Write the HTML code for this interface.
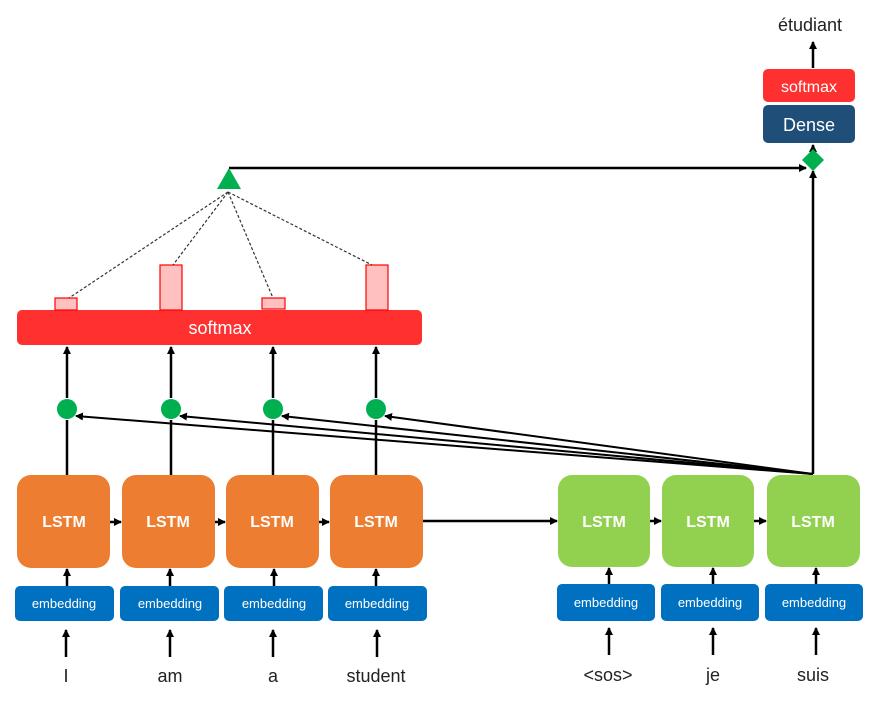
<!DOCTYPE html>
<html><head><meta charset="utf-8"><style>
html,body{margin:0;padding:0;background:#fff;}
svg{display:block;}
text{font-family:"Liberation Sans",sans-serif;}
</style></head><body>
<svg width="893" height="703" viewBox="0 0 893 703" xmlns="http://www.w3.org/2000/svg">
<defs>
<marker id="a" markerWidth="8" markerHeight="8" refX="7" refY="4" orient="auto" markerUnits="userSpaceOnUse"><path d="M0,0 L8,4 L0,8 z" fill="#000"/></marker>
</defs>
<g fill="#ED7D31">
<rect x="17" y="475" width="93" height="93" rx="14"/>
<rect x="122" y="475" width="93" height="93" rx="14"/>
<rect x="226" y="475" width="93" height="93" rx="14"/>
<rect x="330" y="475" width="93" height="93" rx="14"/>
</g>
<g fill="#92D050">
<rect x="558" y="475" width="92" height="92" rx="14"/>
<rect x="662" y="475" width="92" height="92" rx="14"/>
<rect x="767" y="475" width="93" height="92" rx="14"/>
</g>
<g fill="#fff" font-weight="bold" font-size="16" text-anchor="middle">
<text x="64" y="527">LSTM</text><text x="168" y="527">LSTM</text><text x="272" y="527">LSTM</text><text x="376" y="527">LSTM</text>
<text x="604" y="527">LSTM</text><text x="708" y="527">LSTM</text><text x="813" y="527">LSTM</text>
</g>
<g fill="#0070C0">
<rect x="15" y="586" width="99" height="35" rx="5"/>
<rect x="120" y="586" width="99" height="35" rx="5"/>
<rect x="224" y="586" width="99" height="35" rx="5"/>
<rect x="328" y="586" width="99" height="35" rx="5"/>
<rect x="557" y="584" width="98" height="37" rx="5"/>
<rect x="661" y="584" width="98" height="37" rx="5"/>
<rect x="765" y="584" width="98" height="37" rx="5"/>
</g>
<g fill="#fff" font-size="13" text-anchor="middle">
<text x="64" y="608">embedding</text><text x="170" y="608">embedding</text><text x="274" y="608">embedding</text><text x="377" y="608">embedding</text>
<text x="606" y="607">embedding</text><text x="710" y="607">embedding</text><text x="814" y="607">embedding</text>
</g>
<g fill="#222" font-size="18" text-anchor="middle">
<text x="66" y="682">I</text><text x="170" y="682">am</text><text x="273" y="682">a</text><text x="376" y="682">student</text>
<text x="608" y="681">&lt;sos&gt;</text><text x="713" y="681">je</text><text x="813" y="681">suis</text>
<text x="810" y="31">étudiant</text>
</g>
<g stroke="#000" stroke-width="2.5" fill="none" marker-end="url(#a)">
<line x1="66" y1="657" x2="66" y2="630"/><line x1="170" y1="657" x2="170" y2="630"/><line x1="273" y1="657" x2="273" y2="630"/><line x1="377" y1="657" x2="377" y2="630"/>
<line x1="609" y1="655" x2="609" y2="628"/><line x1="713" y1="655" x2="713" y2="628"/><line x1="816" y1="655" x2="816" y2="628"/>
<line x1="67" y1="586" x2="67" y2="569"/><line x1="170" y1="586" x2="170" y2="569"/><line x1="274" y1="586" x2="274" y2="569"/><line x1="376" y1="586" x2="376" y2="569"/>
<line x1="609" y1="584" x2="609" y2="568"/><line x1="713" y1="584" x2="713" y2="568"/><line x1="816" y1="584" x2="816" y2="568"/>
<line x1="110" y1="522" x2="121" y2="522"/><line x1="215" y1="522" x2="225" y2="522"/><line x1="319" y1="522" x2="329" y2="522"/>
<line x1="423" y1="521" x2="557" y2="521"/><line x1="650" y1="521" x2="661" y2="521"/><line x1="754" y1="521" x2="766" y2="521"/>
<line x1="67" y1="398" x2="67" y2="347"/><line x1="171" y1="398" x2="171" y2="347"/><line x1="273" y1="398" x2="273" y2="347"/><line x1="376" y1="398" x2="376" y2="347"/>
<line x1="813" y1="474" x2="813" y2="171"/>
<line x1="229" y1="168" x2="806" y2="168"/>
<line x1="813" y1="150" x2="813" y2="145"/>
<line x1="813" y1="68" x2="813" y2="42"/>
</g>
<g stroke="#000" stroke-width="2.5">
<line x1="67" y1="475" x2="67" y2="420"/><line x1="171" y1="475" x2="171" y2="420"/><line x1="273" y1="475" x2="273" y2="420"/><line x1="376" y1="475" x2="376" y2="420"/>
</g>
<g stroke="#000" stroke-width="2" marker-end="url(#a)">
<line x1="813" y1="474" x2="76" y2="416"/>
<line x1="813" y1="474" x2="180" y2="416"/>
<line x1="813" y1="474" x2="282" y2="416"/>
<line x1="813" y1="474" x2="385" y2="416"/>
</g>
<g fill="#00B050">
<circle cx="67" cy="409" r="10"/><circle cx="171" cy="409" r="10"/><circle cx="273" cy="409" r="10"/><circle cx="376" cy="409" r="10"/>
<polygon points="229,168 241,189 217,189"/>
<polygon points="813,149 824,160 813,171 802,160"/>
</g>
<rect x="17" y="310" width="405" height="35" rx="5" fill="#FF3030"/>
<text x="220" y="334" fill="#fff" font-size="18" text-anchor="middle">softmax</text>
<g fill="#FFC0C0" stroke="#FF0000" stroke-width="1.2">
<rect x="55" y="298" width="22" height="12"/><rect x="160" y="265" width="22" height="45"/>
<rect x="262" y="298" width="23" height="11"/><rect x="366" y="265" width="22" height="45"/>
</g>
<g stroke="#333" stroke-width="1.2" stroke-dasharray="3,2">
<line x1="228" y1="192" x2="69" y2="298"/><line x1="228" y1="192" x2="173" y2="265"/>
<line x1="228" y1="192" x2="273" y2="298"/><line x1="228" y1="192" x2="372" y2="265"/>
</g>
<rect x="763" y="69" width="92" height="33" rx="5" fill="#FF3030"/>
<text x="809" y="92" fill="#fff" font-size="16" text-anchor="middle">softmax</text>
<rect x="763" y="105" width="92" height="38" rx="5" fill="#1F4E79"/>
<text x="809" y="131" fill="#fff" font-size="18" text-anchor="middle">Dense</text>
</svg>
</body></html>
